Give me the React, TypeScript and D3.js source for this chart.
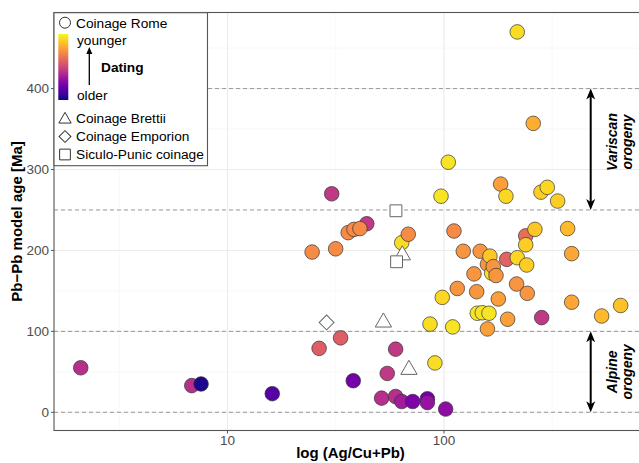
import React from 'react';
import * as d3 from 'd3';

const width = 639;
const height = 463;
const font = '"Liberation Sans", Arial, sans-serif';

// Coinage Rome: Ag/(Cu+Pb) ratio, Pb-Pb model age [Ma], dating (0 = older, 1 = younger)
const romeRatio = [
  2.1, 6.84, 7.55, 16.1, 26.5, 24.6, 30.3, 31.6, 33.3, 44.0, 36.1, 38.1, 38.4, 40.9,
  51.5, 54.7, 59.8, 59.8, 63.8, 63.8, 68.4, 71.7, 83.8, 83.8, 86.2, 90.8, 96.9, 98.2,
  101.8, 104.7, 109.7, 111.2, 115.2, 122.8, 137.6, 141.6, 142.5, 147, 150.3, 158.8, 158.8,
  161.4, 163, 166.1, 168.9, 173.9, 178.2, 182.7, 193.3, 194.9, 196.8, 216.5, 218.1, 238.5,
  238.5, 241, 242.5, 258.4, 263.1, 280.5, 282.6, 300, 335, 372.6, 388.9, 388.9, 535, 654.8,
  218,
];
const romeAge = [
  55, 33, 35, 23, 79, 198, 270, 202, 92, 233, 222, 39, 226, 227,
  17.5, 48, 78, 19.5, 13.3, 209.5, 220, 13.3, 16.7, 12, 109, 61, 267, 142,
  4, 309, 105.5, 224, 153, 199, 171, 149, 122.4, 199, 123, 183, 103,
  122.4, 193, 172, 180, 169, 140, 282, 267, 189, 115, 158.5, 191, 218,
  207, 182, 147, 357, 226, 272, 117, 278, 261, 227, 196, 136, 119, 132,
  470,
];
const romeDating = [
  0.42, 0.42, 0.02, 0.15, 0.58, 0.72, 0.45, 0.72, 0.58, 0.45, 0.72, 0.22, 0.72, 0.72,
  0.42, 0.45, 0.45, 0.42, 0.35, 0.93, 0.72, 0.25, 0.22, 0.32, 0.93, 0.93, 0.95, 0.92,
  0.3, 0.95, 0.95, 0.72, 0.75, 0.75, 0.75, 0.75, 0.95, 0.75, 0.95, 0.75, 0.78,
  0.95, 0.88, 0.95, 0.75, 0.75, 0.78, 0.78, 0.92, 0.6, 0.78, 0.75, 0.92, 0.63,
  0.9, 0.9, 0.75, 0.82, 0.88, 0.9, 0.45, 0.92, 0.9, 0.85, 0.8, 0.8, 0.85, 0.87,
  0.93,
];

const brettiiRatio = [64.2, 52.5, 68.9];
const brettiiAge = [196, 113, 54.5];
const emporionRatio = [28.7];
const emporionAge = [111];
const punicRatio = [60, 60.4];
const punicAge = [249, 186];

const yTicks = [0, 100, 200, 300, 400];
const yMinor = [50, 150, 250, 350, 450];
const xTicks = [10, 100];
const xMinor = [Math.sqrt(10), Math.sqrt(1000), Math.sqrt(100000)];
const refLines = [0, 100, 250, 400];

const legendItems = ['Coinage Brettii', 'Coinage Emporion', 'Siculo-Punic coinage'];

const App = () => {
  const left = 54;
  const right = 641;
  const top = 12.5;
  const bottom = 430.5;

  const x = d3.scaleLog().domain([1.58, 813]).range([left, right]);
  const y = d3.scaleLinear().domain([-22.5, 494]).range([bottom, top]);
  const color = (t: number) => d3.interpolatePlasma(t);

  const tri = d3.symbol(d3.symbolTriangle, 115)();
  const sq = d3.symbol(d3.symbolSquare, 140)();
  const dia = d3.symbol(d3.symbolSquare, 110)();
  const triL = d3.symbol(d3.symbolTriangle, 66)();
  const sqL = d3.symbol(d3.symbolSquare, 115)();
  const diaL = d3.symbol(d3.symbolSquare, 70)();

  const arrowX = 590.7;
  const headW = 4.5;
  const headL = 11;

  const dblArrow = (y1: number, y2: number, key: string) => (
    <g key={key}>
      <line x1={arrowX} x2={arrowX} y1={y1 + 4} y2={y2 - 4} stroke="#000" strokeWidth={2} />
      <polygon points={`${arrowX},${y1} ${arrowX - headW},${y1 + headL} ${arrowX},${y1 + headL - 3} ${arrowX + headW},${y1 + headL}`} fill="#000" />
      <polygon points={`${arrowX},${y2} ${arrowX - headW},${y2 - headL} ${arrowX},${y2 - headL + 3} ${arrowX + headW},${y2 - headL}`} fill="#000" />
    </g>
  );

  const stops = d3.range(0, 1.01, 0.1);

  return (
    <div style={{ position: 'absolute', left: 0, top: 0 }}>
      <svg width={width} height={height} style={{ display: 'block', fontFamily: font }}>
        <defs>
          <linearGradient id="dating" x1="0" y1="1" x2="0" y2="0">
            {stops.map(s => (
              <stop key={s} offset={s} stopColor={color(s)} />
            ))}
          </linearGradient>
          <clipPath id="panel">
            <rect x={left} y={top} width={right - left} height={bottom - top} />
          </clipPath>
        </defs>

        <rect x={0} y={0} width={width} height={height} fill="#fff" />

        {/* grid */}
        <g clipPath="url(#panel)">
          {yMinor.map(v => (
            <line key={'ym' + v} x1={left} x2={right} y1={y(v)} y2={y(v)} stroke="#f4f4f4" strokeWidth={0.6} />
          ))}
          {xMinor.map(v => (
            <line key={'xm' + v} x1={x(v)} x2={x(v)} y1={top} y2={bottom} stroke="#f4f4f4" strokeWidth={0.6} />
          ))}
          {yTicks.map(v => (
            <line key={'y' + v} x1={left} x2={right} y1={y(v)} y2={y(v)} stroke="#ebebeb" strokeWidth={1.1} />
          ))}
          {xTicks.map(v => (
            <line key={'x' + v} x1={x(v)} x2={x(v)} y1={top} y2={bottom} stroke="#ebebeb" strokeWidth={1.1} />
          ))}
          {refLines.map(v => (
            <line key={'r' + v} x1={left} x2={right} y1={y(v)} y2={y(v)} stroke="#9a9a9a" strokeWidth={1} strokeDasharray="4,3" />
          ))}
        </g>

        {/* points */}
        <g clipPath="url(#panel)">
          {romeRatio.map((r, i) => (
            <circle key={'c' + i} cx={x(r)} cy={y(romeAge[i])} r={7.3} fill={color(romeDating[i])} stroke="#333" strokeWidth={0.7} />
          ))}
          {brettiiRatio.map((r, i) => (
            <path key={'t' + i} d={tri} transform={`translate(${x(r)},${y(brettiiAge[i]) + 1.5})`} fill="#fff" stroke="#666" strokeWidth={1} />
          ))}
          {emporionRatio.map((r, i) => (
            <path key={'d' + i} d={dia} transform={`translate(${x(r)},${y(emporionAge[i])}) rotate(45)`} fill="#fff" stroke="#666" strokeWidth={1} />
          ))}
          {punicRatio.map((r, i) => (
            <path key={'s' + i} d={sq} transform={`translate(${x(r)},${y(punicAge[i])})`} fill="#fff" stroke="#666" strokeWidth={1} />
          ))}
        </g>

        {/* orogeny annotations */}
        {dblArrow(y(400), y(250), 'var')}
        {dblArrow(y(100), y(0), 'alp')}
        <text transform="translate(617,142) rotate(-90)" textAnchor="middle" fontSize={14} fontWeight="bold" fontStyle="italic">Variscan</text>
        <text transform="translate(631.5,142) rotate(-90)" textAnchor="middle" fontSize={14} fontWeight="bold" fontStyle="italic">orogeny</text>
        <text transform={`translate(617,${(y(100) + y(0)) / 2}) rotate(-90)`} textAnchor="middle" fontSize={14} fontWeight="bold" fontStyle="italic">Alpine</text>
        <text transform={`translate(631.5,${(y(100) + y(0)) / 2}) rotate(-90)`} textAnchor="middle" fontSize={14} fontWeight="bold" fontStyle="italic">orogeny</text>

        {/* panel border */}
        <rect x={left} y={top} width={right - left} height={bottom - top} fill="none" stroke="#555" strokeWidth={1.1} />

        {/* axes */}
        {yTicks.map(v => (
          <g key={'yt' + v}>
            <line x1={left - 3} x2={left} y1={y(v)} y2={y(v)} stroke="#555" strokeWidth={1} />
            <text x={left - 5} y={y(v) + 4.7} textAnchor="end" fontSize={13.5} fill="#4d4d4d">{v}</text>
          </g>
        ))}
        {xTicks.map(v => (
          <g key={'xt' + v}>
            <line x1={x(v)} x2={x(v)} y1={bottom} y2={bottom + 3} stroke="#555" strokeWidth={1} />
            <text x={x(v)} y={bottom + 14} textAnchor="middle" fontSize={13.5} fill="#4d4d4d">{v}</text>
          </g>
        ))}
        <text x={(left + right) / 2 + 3} y={458} textAnchor="middle" fontSize={15} fontWeight="bold">log (Ag/Cu+Pb)</text>
        <text transform={`translate(22,${(top + bottom) / 2}) rotate(-90)`} textAnchor="middle" fontSize={15} fontWeight="bold">Pb−Pb model age [Ma]</text>

        {/* legend */}
        <g>
          <rect x={left} y={12.7} width={153.5} height={153} fill="#fff" stroke="#555" strokeWidth={1.1} />
          <circle cx={65} cy={22.7} r={5.5} fill="#fff" stroke="#333" strokeWidth={1} />
          <text x={76} y={27.5} fontSize={13.7}>Coinage Rome</text>
          <rect x={58.3} y={34} width={10} height={66} fill="url(#dating)" />
          <text x={77} y={45} fontSize={13.7}>younger</text>
          <text x={77} y={99.5} fontSize={13.7}>older</text>
          <line x1={89.3} x2={89.3} y1={85} y2={52} stroke="#000" strokeWidth={1.3} />
          <polygon points="89.3,47 86.3,54 92.3,54" fill="#000" />
          <text x={101} y={71.5} fontSize={13.7} fontWeight="bold">Dating</text>
          {legendItems.map((label, i) => {
            const cy = 118.5 + i * 18;
            const shape = i === 0 ? triL : i === 1 ? diaL : sqL;
            const rot = i === 1 ? ' rotate(45)' : '';
            const dy = i === 0 ? 1 : 0;
            return (
              <g key={label}>
                <path d={shape} transform={`translate(65,${cy + dy})${rot}`} fill="#fff" stroke="#333" strokeWidth={1} />
                <text x={76} y={cy + 4.8} fontSize={13.7}>{label}</text>
              </g>
            );
          })}
        </g>
      </svg>
    </div>
  );
};

export default App;
